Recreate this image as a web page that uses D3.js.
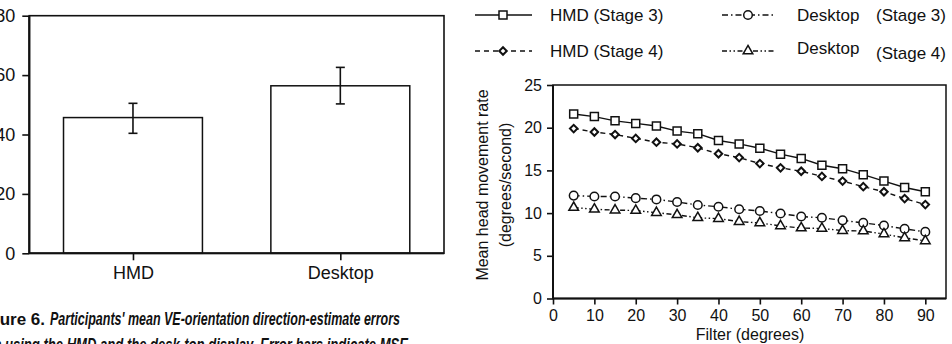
<!DOCTYPE html>
<html>
<head>
<meta charset="utf-8">
<script src="https://cdn.jsdelivr.net/npm/d3@7"></script>
<style>
  html, body { margin: 0; padding: 0; background: #fff; overflow: hidden; }
  svg { display: block; font-family: "Liberation Sans", Arial, Helvetica, sans-serif; }
  .axis path, .axis line { stroke: #111; stroke-width: 1.6; }
  .axis text { fill: #111; }
</style>
</head>
<body>
<div id="chart"></div>
<script>
// left panel: bar chart with error bars
const barCategories = ['HMD', 'Desktop'];
const barMeans = [45.7, 56.4];
const barErrLow = [40.4, 50.3];
const barErrHigh = [50.5, 62.6];
const barYTicks = [0, 20, 40, 60, 80];

// right panel: head movement rate by filter
const filterDeg = [5, 10, 15, 20, 25, 30, 35, 40, 45, 50, 55, 60, 65, 70, 75, 80, 85, 90];
const hmdStage3 = [21.6, 21.3, 20.8, 20.5, 20.2, 19.6, 19.3, 18.5, 18.1, 17.6, 16.9, 16.4, 15.6, 15.2, 14.5, 13.75, 13.0, 12.5];
const hmdStage4 = [19.9, 19.5, 19.2, 18.75, 18.3, 18.1, 17.65, 16.95, 16.5, 15.8, 15.3, 14.9, 14.3, 13.75, 13.1, 12.5, 11.7, 11.0];
const deskStage3 = [12.05, 11.95, 11.95, 11.75, 11.6, 11.3, 10.95, 10.75, 10.45, 10.25, 9.95, 9.6, 9.45, 9.15, 8.85, 8.55, 8.15, 7.8];
const deskStage4 = [10.65, 10.45, 10.35, 10.3, 10.05, 9.8, 9.45, 9.35, 9.0, 8.85, 8.5, 8.25, 8.2, 7.95, 7.9, 7.55, 7.1, 6.75];
const rateYTicks = [0, 5, 10, 15, 20, 25];
const filterXTicks = [0, 10, 20, 30, 40, 50, 60, 70, 80, 90];

const W = 952, H = 344;
const svg = d3.select('#chart').append('svg')
  .attr('width', W)
  .attr('height', H);

// ---------- bar chart ----------
const bx = d3.scalePoint().domain(barCategories).range([29.3, 444]).padding(0.5);
const by = d3.scaleLinear().domain([0, 80]).range([253.3, 15.7]);
const barW = bx.step() * 0.67;

const bars = barCategories.map((c, i) => ({ cat: c, mean: barMeans[i], lo: barErrLow[i], hi: barErrHigh[i] }));

const gBar = svg.append('g');

gBar.append('g')
  .attr('class', 'axis')
  .attr('transform', 'translate(29.3,0)')
  .call(d3.axisLeft(by).tickValues(barYTicks).tickSize(7).tickPadding(7))
  .call(g => g.select('.domain').remove())
  .attr('font-size', 18)
  .attr('font-family', null);

gBar.append('g')
  .attr('class', 'axis')
  .attr('transform', 'translate(0,' + by(0) + ')')
  .call(d3.axisBottom(bx).tickSize(7).tickPadding(6))
  .call(g => g.select('.domain').remove())
  .attr('font-size', 18)
  .attr('font-family', null);

gBar.selectAll('rect.bar')
  .data(bars)
  .enter()
  .append('rect')
  .attr('class', 'bar')
  .attr('x', d => bx(d.cat) - barW / 2)
  .attr('width', barW)
  .attr('y', d => by(d.mean))
  .attr('height', d => by(0) - by(d.mean))
  .attr('fill', '#fff')
  .attr('stroke', '#111')
  .attr('stroke-width', 1.5);

const err = gBar.selectAll('g.err')
  .data(bars)
  .enter()
  .append('g')
  .attr('class', 'err')
  .attr('stroke', '#111')
  .attr('stroke-width', 1.6);
err.append('line')
  .attr('x1', d => bx(d.cat)).attr('x2', d => bx(d.cat))
  .attr('y1', d => by(d.lo)).attr('y2', d => by(d.hi));
err.append('line')
  .attr('x1', d => bx(d.cat) - 4.5).attr('x2', d => bx(d.cat) + 4.5)
  .attr('y1', d => by(d.hi)).attr('y2', d => by(d.hi));
err.append('line')
  .attr('x1', d => bx(d.cat) - 4.5).attr('x2', d => bx(d.cat) + 4.5)
  .attr('y1', d => by(d.lo)).attr('y2', d => by(d.lo));

// frame
gBar.append('rect')
  .attr('x', 29.3)
  .attr('y', by(80))
  .attr('width', 444 - 29.3)
  .attr('height', by(0) - by(80))
  .attr('fill', 'none')
  .attr('stroke', '#111')
  .attr('stroke-width', 1.6);
gBar.append('line')
  .attr('x1', 29.3).attr('x2', 29.3)
  .attr('y1', by(80)).attr('y2', by(0))
  .attr('stroke', '#111').attr('stroke-width', 2.2);
gBar.append('line')
  .attr('x1', 29.3).attr('x2', 444)
  .attr('y1', by(0)).attr('y2', by(0))
  .attr('stroke', '#111').attr('stroke-width', 2);

// caption (left edge cut off in the scan)
const cap = svg.append('g').attr('fill', '#111');
cap.append('text')
  .attr('x', 45)
  .attr('y', 325)
  .attr('text-anchor', 'end')
  .attr('font-size', 17)
  .attr('font-weight', 'bold')
  .text('Figure 6.');
cap.append('text')
  .attr('x', 50)
  .attr('y', 325)
  .attr('font-size', 18)
  .attr('font-style', 'italic')
  .attr('font-weight', 'bold')
  .attr('textLength', 350)
  .attr('lengthAdjust', 'spacingAndGlyphs')
  .text("Participants' mean VE-orientation direction-estimate errors");
cap.append('text')
  .attr('x', -32)
  .attr('y', 351)
  .attr('font-size', 18)
  .attr('font-style', 'italic')
  .attr('font-weight', 'bold')
  .attr('textLength', 440)
  .attr('lengthAdjust', 'spacingAndGlyphs')
  .text('when using the HMD and the desk-top display. Error bars indicate MSE');

// ---------- line chart ----------
const x = d3.scaleLinear().domain([0, 95]).range([553, 946]);
const y = d3.scaleLinear().domain([0, 25]).range([298.5, 85]);

const gLine = svg.append('g');

gLine.append('g')
  .attr('class', 'axis')
  .attr('transform', 'translate(553,0)')
  .call(d3.axisLeft(y).tickValues(rateYTicks).tickSize(6).tickPadding(5))
  .call(g => g.select('.domain').remove())
  .attr('font-size', 16)
  .attr('font-family', null);

gLine.append('g')
  .attr('class', 'axis')
  .attr('transform', 'translate(0,298.5)')
  .call(d3.axisBottom(x).tickValues(filterXTicks).tickSize(6).tickPadding(5))
  .call(g => g.select('.domain').remove())
  .attr('font-size', 16)
  .attr('font-family', null);

gLine.append('rect')
  .attr('x', 553)
  .attr('y', 85)
  .attr('width', 946 - 553)
  .attr('height', 298.5 - 85)
  .attr('fill', 'none')
  .attr('stroke', '#111')
  .attr('stroke-width', 1.5);
gLine.append('line')
  .attr('x1', 553).attr('x2', 553).attr('y1', 85).attr('y2', 298.5)
  .attr('stroke', '#111').attr('stroke-width', 2);
gLine.append('line')
  .attr('x1', 553).attr('x2', 946).attr('y1', 298.5).attr('y2', 298.5)
  .attr('stroke', '#111').attr('stroke-width', 2);

gLine.append('text')
  .attr('transform', 'translate(482,185) rotate(-90)')
  .attr('text-anchor', 'middle')
  .attr('dominant-baseline', 'central')
  .attr('font-size', 16)
  .attr('fill', '#111')
  .text('Mean head movement rate');
gLine.append('text')
  .attr('transform', 'translate(505,185) rotate(-90)')
  .attr('text-anchor', 'middle')
  .attr('dominant-baseline', 'central')
  .attr('font-size', 16)
  .attr('fill', '#111')
  .text('(degrees/second)');
gLine.append('text')
  .attr('x', 750)
  .attr('y', 340)
  .attr('text-anchor', 'middle')
  .attr('font-size', 16)
  .attr('fill', '#111')
  .text('Filter (degrees)');

const series = [
  { name: 'HMD (Stage 3)', values: hmdStage3, dash: null, symbol: d3.symbolSquare, size: 64, rot: 0 },
  { name: 'HMD (Stage 4)', values: hmdStage4, dash: '5,4', symbol: d3.symbolSquare, size: 28, rot: 45 },
  { name: 'Desktop (Stage 3)', values: deskStage3, dash: '6,3,1.5,3', symbol: d3.symbolCircle, size: 58, rot: 0 },
  { name: 'Desktop (Stage 4)', values: deskStage4, dash: '5,2.5,1.5,2.5,1.5,2.5', symbol: d3.symbolTriangle, size: 40, rot: 0 }
];

const line = d3.line()
  .x((d, i) => x(filterDeg[i]))
  .y(d => y(d));

series.forEach(s => {
  gLine.append('path')
    .datum(s.values)
    .attr('d', line)
    .attr('fill', 'none')
    .attr('stroke', '#111')
    .attr('stroke-width', 1.4)
    .attr('stroke-dasharray', s.dash);
});

series.forEach(s => {
  gLine.selectAll(null)
    .data(s.values)
    .enter()
    .append('path')
    .attr('d', d3.symbol().type(s.symbol).size(s.size))
    .attr('transform', (d, i) => 'translate(' + x(filterDeg[i]) + ',' + y(d) + ') rotate(' + s.rot + ')')
    .attr('fill', '#fff')
    .attr('stroke', '#111')
    .attr('stroke-width', s.rot ? 2 : 1.5);
});

// legend
const legendPos = [
  { lx: 475, rx: 532, mx: 503, ty: 15, tx: 550 },
  { lx: 475, rx: 532, mx: 503, ty: 51, tx: 550 },
  { lx: 722, rx: 775, mx: 748, ty: 15, tx: 797 },
  { lx: 722, rx: 775, mx: 748, ty: 51, tx: 797 }
];
const leg = gLine.append('g');
series.forEach((s, i) => {
  const p = legendPos[i];
  leg.append('line')
    .attr('x1', p.lx).attr('x2', p.rx)
    .attr('y1', p.ty).attr('y2', p.ty)
    .attr('stroke', '#111')
    .attr('stroke-width', 1.4)
    .attr('stroke-dasharray', s.dash);
  leg.append('path')
    .attr('d', d3.symbol().type(s.symbol).size(s.size))
    .attr('transform', 'translate(' + p.mx + ',' + p.ty + ') rotate(' + s.rot + ')')
    .attr('fill', '#fff')
    .attr('stroke', '#111')
    .attr('stroke-width', s.rot ? 2 : 1.5);
  const parts = s.name.split(' (');
  if (i < 2) {
    leg.append('text')
      .attr('x', p.tx).attr('y', p.ty)
      .attr('dominant-baseline', 'central')
      .attr('font-size', 17)
      .attr('fill', '#111')
      .text(s.name);
  } else {
    leg.append('text')
      .attr('x', p.tx).attr('y', p.ty - (i === 3 ? 3 : 0))
      .attr('dominant-baseline', 'central')
      .attr('font-size', 17)
      .attr('fill', '#111')
      .text(parts[0]);
    leg.append('text')
      .attr('x', 876).attr('y', p.ty + (i === 3 ? 2 : 0))
      .attr('dominant-baseline', 'central')
      .attr('font-size', 17)
      .attr('fill', '#111')
      .text('(' + parts[1]);
  }
});
</script>
</body>
</html>
